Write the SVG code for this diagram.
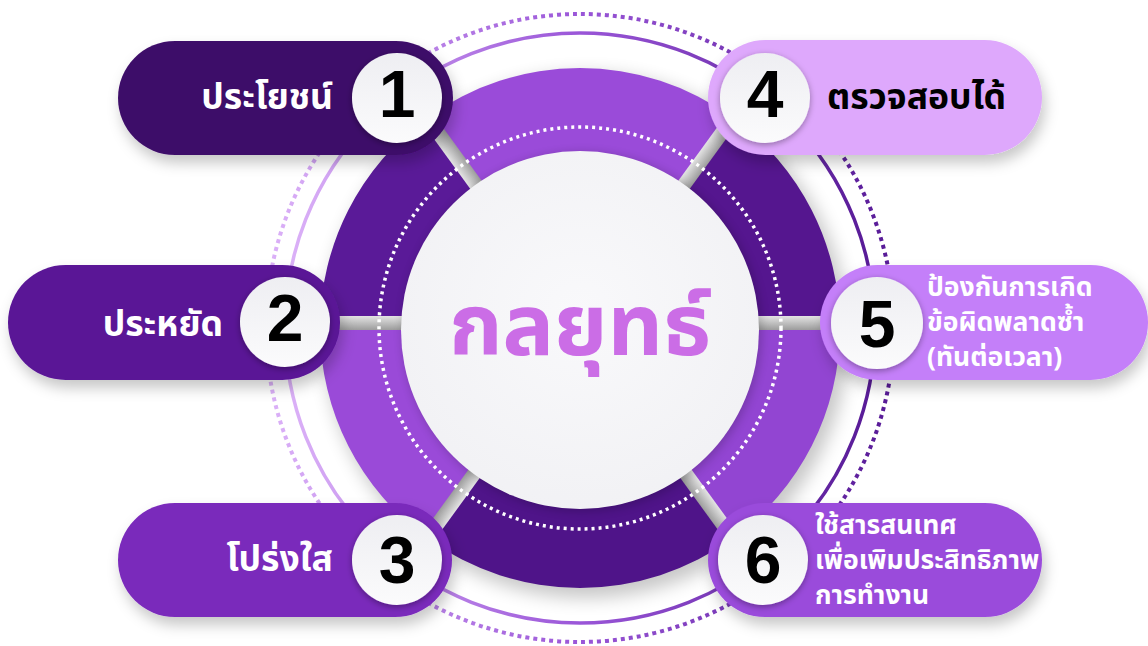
<svg xmlns="http://www.w3.org/2000/svg" width="1148" height="646" viewBox="0 0 1148 646">
<defs>
<style>
.th{font-family:"Noto Sans Thai","Noto Sans Thai UI","Noto Sans","DejaVu Sans",sans-serif;font-weight:700}
.lbl{font-size:35.5px;fill:#ffffff}
.lbl2{font-size:26.5px;fill:#ffffff}
.num{font-family:"Liberation Sans",Arial,sans-serif;font-weight:700;font-size:66px;fill:#000000;text-anchor:middle}
.badge{fill:url(#badgeGrad);filter:url(#badgeShadow)}
.pill{filter:url(#pillShadow)}
.spoke{fill:url(#spokeGrad)}
</style>
<linearGradient id="outerGrad" x1="0" y1="0" x2="1" y2="0">
<stop offset="0" stop-color="#dcb2f8"/>
<stop offset="0.5" stop-color="#9a56d8"/>
<stop offset="1" stop-color="#571a96"/>
</linearGradient>
<linearGradient id="spokeGrad" x1="0" y1="0" x2="0" y2="1">
<stop offset="0" stop-color="#e4e4e4"/>
<stop offset="1" stop-color="#9c9c9c"/>
</linearGradient>
<linearGradient id="badgeGrad" x1="0" y1="0" x2="0" y2="1">
<stop offset="0" stop-color="#eeeef2"/>
<stop offset="1" stop-color="#fbfbfc"/>
</linearGradient>
<radialGradient id="centerGrad" cx="0.5" cy="0.45" r="0.6">
<stop offset="0" stop-color="#f9f9fb"/>
<stop offset="1" stop-color="#f1f1f4"/>
</radialGradient>
<filter id="pillShadow" x="-20%" y="-30%" width="140%" height="170%">
<feDropShadow dx="3" dy="8" stdDeviation="7" flood-color="#000" flood-opacity="0.22"/>
</filter>
<filter id="badgeShadow" x="-30%" y="-30%" width="160%" height="160%">
<feDropShadow dx="0" dy="2" stdDeviation="3" flood-color="#000" flood-opacity="0.35"/>
</filter>
<filter id="ringShadow" x="-20%" y="-20%" width="140%" height="140%">
<feGaussianBlur stdDeviation="9"/>
</filter>
<filter id="centerShadow" x="-20%" y="-20%" width="140%" height="140%">
<feGaussianBlur stdDeviation="5"/>
</filter>
</defs>
<rect width="1148" height="646" fill="#ffffff"/>

<g id="backdrop">
<circle cx="580" cy="328" r="314" fill="none" stroke="url(#outerGrad)" stroke-width="4" stroke-dasharray="4 4"/>
<circle cx="580" cy="328" r="295" fill="none" stroke="url(#outerGrad)" stroke-width="3.5"/>
<circle cx="586" cy="336" r="262" fill="#000" opacity="0.22" filter="url(#ringShadow)"/>
</g>

<g id="ring">
<path d="M840,328 A260,260 0 0 0 732.8,117.7 L679.9,190.5 A170,170 0 0 1 750,328 Z" fill="#55168f"/>
<path d="M732.8,117.7 A260,260 0 0 0 427.2,117.7 L480.1,190.5 A170,170 0 0 1 679.9,190.5 Z" fill="#9a4bd9"/>
<path d="M427.2,117.7 A260,260 0 0 0 320,328 L410,328 A170,170 0 0 1 480.1,190.5 Z" fill="#5a1a98"/>
<path d="M320,328 A260,260 0 0 0 427.2,538.3 L480.1,465.5 A170,170 0 0 1 410,328 Z" fill="#9a4ad8"/>
<path d="M427.2,538.3 A260,260 0 0 0 732.8,538.3 L679.9,465.5 A170,170 0 0 1 480.1,465.5 Z" fill="#4f1489"/>
<path d="M732.8,538.3 A260,260 0 0 0 840,328 L750,328 A170,170 0 0 1 679.9,465.5 Z" fill="#9245d2"/>
</g>

<g id="connectors">
<rect class="spoke" x="150" y="-7" width="111" height="14" transform="translate(580,328) rotate(-54)"/>
<rect class="spoke" x="150" y="-7" width="111" height="14" transform="translate(580,328) rotate(-126)"/>
<rect class="spoke" x="150" y="-7" width="111" height="14" transform="translate(580,328) rotate(126)"/>
<rect class="spoke" x="150" y="-7" width="111" height="14" transform="translate(580,328) rotate(54)"/>
<rect class="spoke" x="320" y="316" width="100" height="14"/>
<rect class="spoke" x="740" y="316" width="100" height="14"/>
</g>

<g id="center">
<circle cx="580" cy="328" r="201" fill="none" stroke="#ffffff" stroke-width="3.5" stroke-dasharray="3 4"/>
<circle cx="582" cy="332" r="180" fill="#000" opacity="0.18" filter="url(#centerShadow)"/>
<circle cx="580" cy="330" r="179" fill="url(#centerGrad)"/>
<text class="th" x="580" y="355" font-size="86" fill="#cb6de6" text-anchor="middle">กลยุทธ์</text>
</g>

<g id="node-1">
<rect class="pill" x="118" y="41" width="335" height="114" rx="57" fill="#3e0b69"/>
<text class="th lbl" x="333" y="109" text-anchor="end">ประโยชน์</text>
<circle class="badge" cx="397" cy="98" r="45"/>
<text class="num" x="397" y="117">1</text>
</g>

<g id="node-4">
<rect class="pill" x="708" y="40" width="334" height="115" rx="57.5" fill="#dea8fc"/>
<text class="th lbl" x="827" y="109" style="fill:#000000">ตรวจสอบได้</text>
<circle class="badge" cx="765" cy="98" r="45"/>
<text class="num" x="765" y="117">4</text>
</g>

<g id="node-2">
<rect class="pill" x="8" y="265" width="332" height="115" rx="57.5" fill="#5a1896"/>
<text class="th lbl" x="223" y="336" text-anchor="end">ประหยัด</text>
<circle class="badge" cx="285" cy="322" r="45"/>
<text class="num" x="285" y="341">2</text>
</g>

<g id="node-5">
<rect class="pill" x="820" y="265" width="328" height="115" rx="57.5" fill="#c47ff9"/>
<text class="th lbl2" x="927" y="296">ป้องกันการเกิด</text>
<text class="th lbl2" x="927" y="331">ข้อผิดพลาดซ้ำ</text>
<text class="th lbl2" x="927" y="366">(ทันต่อเวลา)</text>
<circle class="badge" cx="877" cy="323" r="46"/>
<text class="num" x="877" y="347">5</text>
</g>

<g id="node-3">
<rect class="pill" x="118" y="503" width="334" height="114" rx="57" fill="#7a29bb"/>
<text class="th lbl" x="333" y="571" text-anchor="end">โปร่งใส</text>
<circle class="badge" cx="397" cy="560" r="45"/>
<text class="num" x="397" y="583">3</text>
</g>

<g id="node-6">
<rect class="pill" x="708" y="503" width="334" height="114" rx="57" fill="#9a4bdb"/>
<text class="th lbl2" x="815" y="534">ใช้สารสนเทศ</text>
<text class="th lbl2" x="815" y="569">เพื่อเพิมประสิทธิภาพ</text>
<text class="th lbl2" x="815" y="604">การทำงาน</text>
<circle class="badge" cx="763" cy="560" r="45"/>
<text class="num" x="763" y="583">6</text>
</g>
</svg>
